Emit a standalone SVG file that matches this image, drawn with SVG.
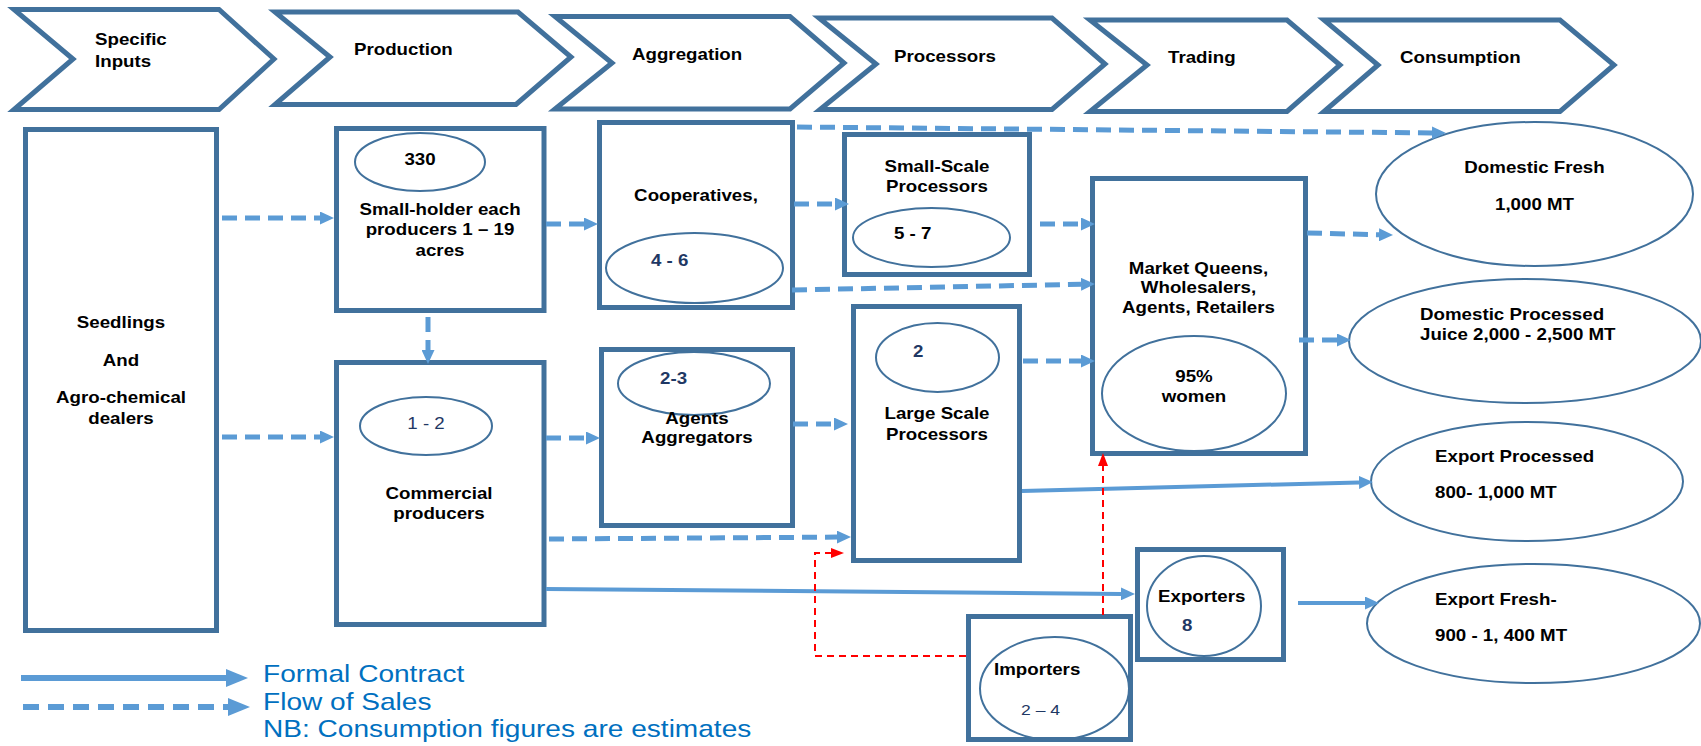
<svg xmlns="http://www.w3.org/2000/svg" width="1701" height="746" viewBox="0 0 1701 746">
<defs>
<style>
.chev{fill:#fff;stroke:#41719C;stroke-width:5;stroke-linejoin:miter}
.box{fill:#fff;stroke:#41719C;stroke-width:5}
.ell{fill:none;stroke:#41719C;stroke-width:2}
.t{font-family:"Liberation Sans",Arial,Helvetica,sans-serif;font-size:16px;font-weight:bold;fill:#000}
.c{text-anchor:middle}
.n{fill:#1F3864}
.r{font-weight:normal}
.dash{fill:none;stroke:#5B9BD5;stroke-width:5;stroke-dasharray:15 8;marker-end:url(#ah)}
.solid{fill:none;stroke:#5B9BD5;stroke-width:4;marker-end:url(#ah)}
.red{fill:none;stroke:#FF0000;stroke-width:2;stroke-dasharray:7 5;marker-end:url(#rh)}
.ldash{fill:none;stroke:#5B9BD5;stroke-width:6;stroke-dasharray:16 9;marker-end:url(#lh)}
.lsolid{fill:none;stroke:#5B9BD5;stroke-width:6;marker-end:url(#lh)}
.leg{font-family:"Liberation Sans",Arial,Helvetica,sans-serif;font-size:24px;fill:#0070C0}
</style>
<marker id="ah" markerUnits="userSpaceOnUse" markerWidth="14" markerHeight="13" refX="0" refY="6.5" orient="auto"><path d="M0,0 L14,6.5 L0,13 Z" fill="#5B9BD5"/></marker>
<marker id="lh" markerUnits="userSpaceOnUse" markerWidth="22" markerHeight="18" refX="0" refY="9" orient="auto"><path d="M0,0 L22,9 L0,18 Z" fill="#5B9BD5"/></marker>
<marker id="rh" markerUnits="userSpaceOnUse" markerWidth="13" markerHeight="10" refX="0" refY="5" orient="auto"><path d="M0,0 L13,5 L0,10 Z" fill="#FF0000"/></marker>
</defs>
<rect width="1701" height="746" fill="#fff"/>

<g id="stages">
<g id="stage-inputs"><path class="chev" d="M14,9.5 H219 L274,59 L219,109.5 H14 L73,59 Z"/>
<text class="t" transform="translate(95,45) scale(1.17 1)"><tspan x="0">Specific</tspan><tspan x="0" dy="22">Inputs</tspan></text></g>
<g id="stage-production"><path class="chev" d="M275,12 H518 L571,57 L516,104.5 H275 L330,57 Z"/>
<text class="t" transform="translate(354,55) scale(1.17 1)">Production</text></g>
<g id="stage-aggregation"><path class="chev" d="M555,16.5 H790 L844,63 L790,109 H555 L612,63 Z"/>
<text class="t" transform="translate(632,60) scale(1.17 1)">Aggregation</text></g>
<g id="stage-processors"><path class="chev" d="M819,18 H1052 L1105,64 L1052,109.5 H820 L876,64 Z"/>
<text class="t" transform="translate(894,62) scale(1.17 1)">Processors</text></g>
<g id="stage-trading"><path class="chev" d="M1090,20 H1287 L1340,65 L1287,111.5 H1090 L1147,65 Z"/>
<text class="t" transform="translate(1168,63) scale(1.17 1)">Trading</text></g>
<g id="stage-consumption"><path class="chev" d="M1324,20 H1560 L1614,65 L1560,111.5 H1324 L1378,65 Z"/>
<text class="t" transform="translate(1400,63) scale(1.17 1)">Consumption</text></g>
</g>

<g id="seedlings"><rect class="box" x="25.5" y="129.5" width="191" height="501"/>
<text class="t c" transform="translate(121,328) scale(1.17 1)"><tspan x="0">Seedlings</tspan><tspan x="0" dy="38">And</tspan><tspan x="0" dy="37">Agro-chemical</tspan><tspan x="0" dy="21">dealers</tspan></text></g>

<g id="smallholder"><rect class="box" x="336.5" y="128.5" width="207.5" height="182"/>
<ellipse class="ell" cx="420" cy="162" rx="65" ry="29"/>
<text class="t c" transform="translate(420,165) scale(1.17 1)">330</text>
<text class="t c" transform="translate(440,215) scale(1.17 1)"><tspan x="0">Small-holder each</tspan><tspan x="0" dy="20">producers 1 – 19</tspan><tspan x="0" dy="21">acres</tspan></text></g>

<g id="commercial"><rect class="box" x="336.5" y="362.5" width="207.5" height="262"/>
<ellipse class="ell" cx="426" cy="426" rx="66" ry="29"/>
<text class="t c r n" transform="translate(426,429) scale(1.17 1)">1 - 2</text>
<text class="t c" transform="translate(439,499) scale(1.17 1)"><tspan x="0">Commercial</tspan><tspan x="0" dy="20">producers</tspan></text></g>

<g id="cooperatives"><rect class="box" x="599.5" y="122.5" width="193" height="185"/>
<text class="t c" transform="translate(696,201) scale(1.17 1)">Cooperatives,</text>
<ellipse class="ell" cx="694.5" cy="268" rx="88.5" ry="35"/>
<text class="t n" transform="translate(651,266) scale(1.17 1)">4 - 6</text></g>

<g id="aggregators"><rect class="box" x="601.5" y="349.5" width="191" height="176"/>
<ellipse class="ell" cx="694" cy="383.5" rx="76" ry="31.5"/>
<text class="t n" transform="translate(660,384) scale(1.17 1)">2-3</text>
<text class="t c" transform="translate(697,423.5) scale(1.17 1)"><tspan x="0">Agents</tspan><tspan x="0" dy="20">Aggregators</tspan></text></g>

<g id="smallscale"><rect class="box" x="844.5" y="134.5" width="185" height="140"/>
<text class="t c" transform="translate(937,172) scale(1.17 1)"><tspan x="0">Small-Scale</tspan><tspan x="0" dy="20">Processors</tspan></text>
<ellipse class="ell" cx="931.5" cy="237.5" rx="78.5" ry="29.5"/>
<text class="t" transform="translate(894,239) scale(1.17 1)">5 - 7</text></g>

<g id="largescale"><rect class="box" x="853.5" y="306.5" width="166" height="254"/>
<ellipse class="ell" cx="937.5" cy="357.5" rx="61.5" ry="34.5"/>
<text class="t n" transform="translate(913,357) scale(1.17 1)">2</text>
<text class="t c" transform="translate(937,419) scale(1.17 1)"><tspan x="0">Large Scale</tspan><tspan x="0" dy="21">Processors</tspan></text></g>

<g id="marketqueens"><rect class="box" x="1092.5" y="178.5" width="213" height="275"/>
<text class="t c" transform="translate(1198.5,273.5) scale(1.17 1)"><tspan x="0">Market Queens,</tspan><tspan x="0" dy="20">Wholesalers,</tspan><tspan x="0" dy="20">Agents, Retailers</tspan></text>
<ellipse class="ell" cx="1194" cy="393.5" rx="92" ry="57.5"/>
<text class="t c" transform="translate(1194,381.5) scale(1.17 1)"><tspan x="0">95%</tspan><tspan x="0" dy="21">women</tspan></text></g>

<g id="importers"><rect class="box" x="968.5" y="616.5" width="162" height="123"/>
<ellipse class="ell" cx="1054.5" cy="688.5" rx="74.5" ry="51.5"/>
<text class="t" transform="translate(994,675) scale(1.17 1)">Importers</text>
<text class="t r n" style="font-size:15px" transform="translate(1021,715) scale(1.17 1)">2 – 4</text></g>

<g id="exporters"><rect class="box" x="1137.5" y="549.5" width="146" height="110"/>
<ellipse class="ell" cx="1204" cy="606" rx="57" ry="50"/>
<text class="t" transform="translate(1158,601.5) scale(1.17 1)">Exporters</text>
<text class="t n" transform="translate(1182,631) scale(1.17 1)">8</text></g>

<g id="domfresh"><ellipse class="ell" cx="1534.5" cy="194" rx="158.5" ry="72"/>
<text class="t c" transform="translate(1534.5,172.5) scale(1.17 1)"><tspan x="0">Domestic Fresh</tspan><tspan x="0" dy="37.5">1,000 MT</tspan></text></g>

<g id="domprocessed"><ellipse class="ell" cx="1525" cy="341" rx="176" ry="62"/>
<text class="t" transform="translate(1420,320) scale(1.17 1)"><tspan x="0">Domestic Processed</tspan><tspan x="0" dy="20.5">Juice 2,000 - 2,500 MT</tspan></text></g>

<g id="expprocessed"><ellipse class="ell" cx="1527" cy="481.5" rx="156" ry="59.5"/>
<text class="t" transform="translate(1435,461.5) scale(1.17 1)"><tspan x="0">Export Processed</tspan><tspan x="0" dy="37">800- 1,000 MT</tspan></text></g>

<g id="expfresh"><ellipse class="ell" cx="1533.5" cy="623.5" rx="166.5" ry="59.5"/>
<text class="t" transform="translate(1435,604.5) scale(1.17 1)"><tspan x="0">Export Fresh-</tspan><tspan x="0" dy="37">900 - 1, 400 MT</tspan></text></g>

<g id="connectors">
<path class="dash" d="M222,218 H320"/>
<path class="dash" d="M222,437 H320"/>
<path class="dash" d="M428,317 V350"/>
<path class="dash" d="M546,224 H584"/>
<path class="dash" d="M546,438 H586"/>
<path class="dash" d="M794,204 H835"/>
<path class="dash" d="M797,127 L1432,132.9"/>
<path class="dash" d="M792,290 L1081,284.3"/>
<path class="dash" d="M1040,224 H1081"/>
<path class="dash" d="M793,424 H834"/>
<path class="dash" d="M549,539 L837,537.1"/>
<path class="dash" d="M1023,361 H1081"/>
<path class="dash" d="M1307,233 L1379,234.7"/>
<path class="dash" d="M1299,340 H1337"/>
<path class="solid" d="M546,589 L1121,593.9"/>
<path class="solid" d="M1022,491 L1359,482.4"/>
<path class="solid" d="M1298,603 H1365"/>
<path class="red" d="M966,656 H815 V553 H831"/>
<path class="red" d="M1103,615 V466"/>
</g>

<g id="legend">
<path class="lsolid" d="M21,678 H226"/>
<path class="ldash" d="M23,707 H228"/>
<text class="leg" transform="translate(263,682) scale(1.17 1)"><tspan x="0">Formal Contract</tspan><tspan x="0" dy="28">Flow of Sales</tspan><tspan x="0" dy="27">NB: Consumption figures are estimates</tspan></text>
</g>
</svg>
